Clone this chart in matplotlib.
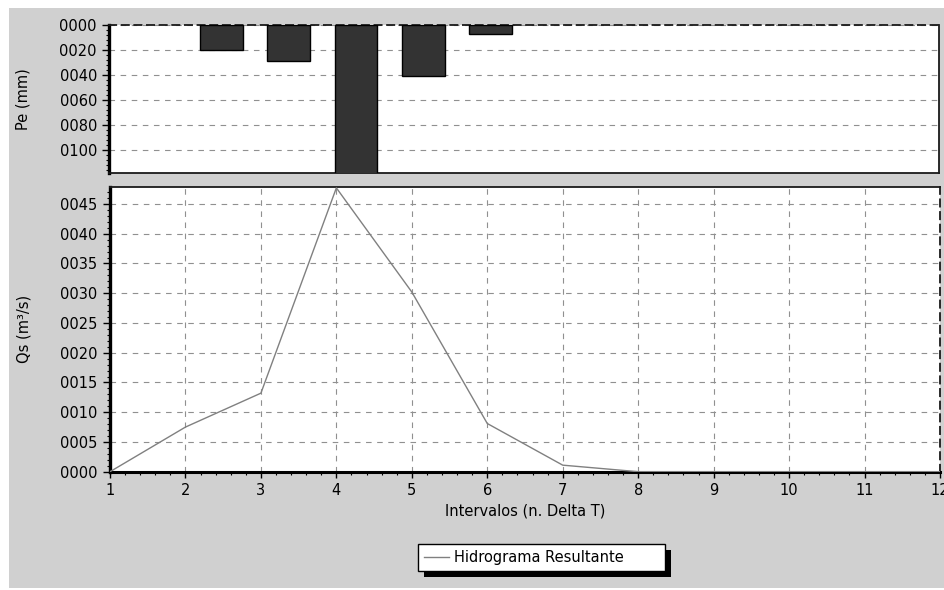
import matplotlib
matplotlib.use('Agg')
import matplotlib.pyplot as plt
from matplotlib.patches import Rectangle
from matplotlib.ticker import MultipleLocator, AutoMinorLocator, FuncFormatter

# rainfall excess (Pe) per interval
pe_intervals = [1, 2, 3, 4, 5]
pe_values = [20, 28.5, 120, 40.8, 7.5]

# resulting hydrograph (Qs), values as read on the axis scale
q_intervals = [1, 2, 3, 4, 5, 6, 7, 8, 9, 10, 11, 12]
q_values = [0, 7.5, 13.2, 47.7, 30.2, 8.1, 1.1, 0, 0, 0, 0, 0]

plt.rcParams['font.family'] = 'DejaVu Sans'
plt.rcParams['font.size'] = 10.5

W, H = 945, 590
fig = plt.figure(figsize=(W / 100, H / 100), dpi=100, facecolor='white')

# grey panel behind everything
fig.patches.append(Rectangle((9 / W, 2 / H), 1 - 9 / W, (H - 10) / H,
                             transform=fig.transFigure, facecolor='#d0d0d0',
                             edgecolor='none', zorder=-10))

grid_kw = dict(color='#909090', linestyle=(0, (5, 5)), linewidth=0.8)
fmt = FuncFormatter(lambda v, pos: '%04d' % round(v))


def style_axes(ax):
    ax.set_facecolor('white')
    for side in ['top', 'right', 'bottom']:
        ax.spines[side].set_linewidth(1.3)
        ax.spines[side].set_color('#1a1a1a')
    ax.spines['left'].set_linewidth(2.4)
    ax.spines['left'].set_color('black')
    ax.tick_params(axis='y', which='major', direction='out', length=5, width=1, pad=4, labelsize=10.5)
    ax.tick_params(axis='y', which='minor', direction='out', length=2.5, width=0.8)
    ax.yaxis.set_major_formatter(fmt)
    ax.set_axisbelow(True)


# --- top: rainfall bars (inverted) ---
ax1 = fig.add_axes([109.5 / W, (H - 173) / H, (939 - 109.5) / W, (173 - 25) / H])
style_axes(ax1)
ax1.bar(pe_intervals, pe_values, width=0.635, color='#333333', edgecolor='black', linewidth=1, zorder=3)
ax1.set_xlim(-0.665, 11.67)
ax1.set_ylim(118.6, 0)
ax1.yaxis.set_major_locator(MultipleLocator(20))
ax1.yaxis.set_minor_locator(AutoMinorLocator(5))
ax1.set_xticks([])
ax1.grid(axis='y', **grid_kw)
ax1.spines['top'].set_linestyle((0, (4, 3)))
ax1.set_ylabel('Pe (mm)', fontsize=10.5)
ax1.yaxis.set_label_coords(-0.095, 0.5)

# --- bottom: hydrograph ---
ax2 = fig.add_axes([110 / W, (H - 471.7) / H, (940 - 110) / W, (471.7 - 186.7) / H])
style_axes(ax2)
line, = ax2.plot(q_intervals, q_values, color='#808080', linewidth=1, zorder=3,
                 label='Hidrograma Resultante')
ax2.set_xlim(1, 12)
ax2.set_ylim(0, 47.9)
ax2.xaxis.set_major_locator(MultipleLocator(1))
ax2.xaxis.set_minor_locator(AutoMinorLocator(5))
ax2.yaxis.set_major_locator(MultipleLocator(5))
ax2.yaxis.set_minor_locator(AutoMinorLocator(5))
ax2.tick_params(axis='x', which='major', direction='out', length=4, width=1, pad=4, labelsize=10.5)
ax2.tick_params(axis='x', which='minor', direction='out', length=2.5, width=0.8)
ax2.spines['bottom'].set_linewidth(2.2)
ax2.spines['bottom'].set_color('black')
ax2.spines['right'].set_linestyle((0, (4, 3)))
ax2.grid(axis='both', which='major', **grid_kw)
ax2.set_xlabel('Intervalos (n. Delta T)', fontsize=10.5, labelpad=4)
ax2.set_ylabel('Qs (m³/s)', fontsize=10.5)
ax2.yaxis.set_label_coords(-0.095, 0.5)

# legend box stretched to the reference width
leg = fig.legend(handles=[line], loc='upper left', mode='expand',
                 bbox_to_anchor=(418 / W, 1 - 573 / H, 247 / W, 29 / H),
                 borderaxespad=0, frameon=True, fancybox=False, edgecolor='black',
                 facecolor='white', framealpha=1, handlelength=1.7, handletextpad=0.35,
                 borderpad=0.4, fontsize=10.5)
leg.get_frame().set_linewidth(1)

# black drop shadow under the legend box
fig.canvas.draw()
bb = leg.get_window_extent().transformed(fig.transFigure.inverted())
fig.patches.append(Rectangle((bb.x0 + 6 / W, bb.y0 - 6 / H), bb.width, bb.height,
                             transform=fig.transFigure, facecolor='black',
                             edgecolor='none', zorder=4))

fig.savefig('out.png', dpi=100, facecolor=fig.get_facecolor())
